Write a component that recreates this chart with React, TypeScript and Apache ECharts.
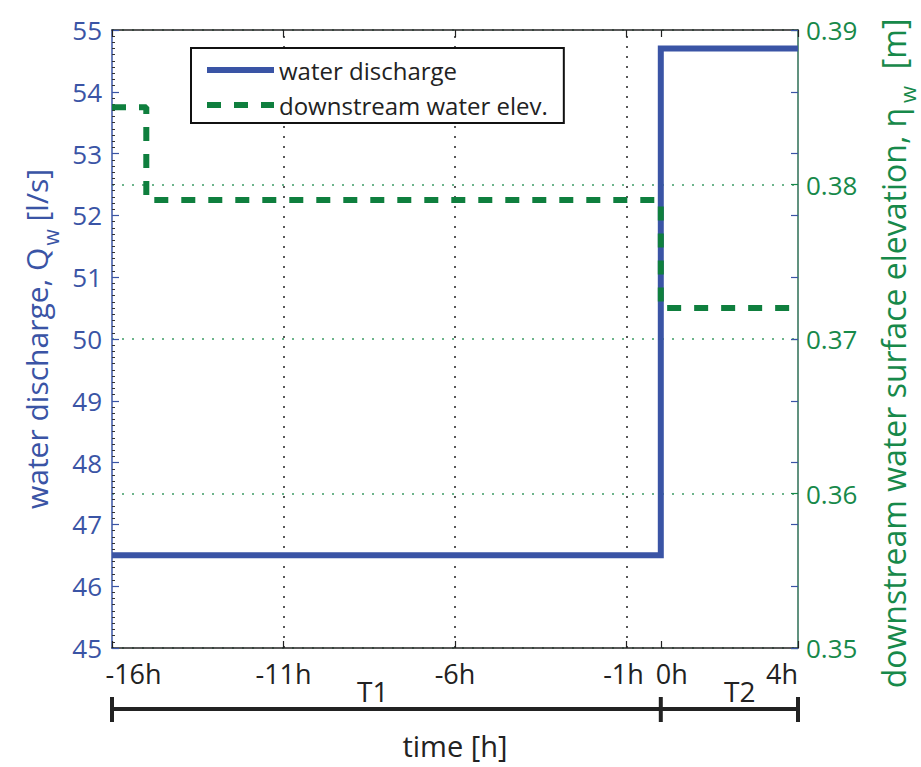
import React, { useEffect, useRef } from "react";
import * as echarts from "echarts";

// ---- data ----
const timeTicks = [-16, -11, -6, -1, 0, 4];
const timeLabels = ["-16h", "-11h", "-6h", "-1h", "0h", "4h"];
const gridTimes = [-11, -6, -1];
const dischargeTime = [-16, 0, 0, 4];
const dischargeValues = [46.5, 46.5, 54.7, 54.7];
const elevTime = [-16, -15, -15, 0, 0, 4];
const elevValues = [0.385, 0.385, 0.379, 0.379, 0.372, 0.372];
const periodNames = ["T1", "T2"];
const periodBounds = [-16, 0, 4];
const periodLabelAt = [-8.4, 2.3];
const leftTicks = [45, 46, 47, 48, 49, 50, 51, 52, 53, 54, 55];
const rightTicks = [0.35, 0.36, 0.37, 0.38, 0.39];

const BLUE = "#3a54a5";
const GREEN = "#0f7f3e";
const GREEN_TXT = "#17894a";
const DARK = "#222222";
const FONT = "Open Sans";

const shiftKey: Record<string, string> = { "-16": "a", "-1": "b", "0": "c", "4": "d" };

export default function App() {
  const ref = useRef<HTMLDivElement>(null);
  useEffect(() => {
    if (!ref.current) return;
    const chart = echarts.init(ref.current, null, { renderer: "svg" });
    const xLabelBase = { fontSize: 27, color: DARK, fontFamily: FONT };
    const option: any = {
      animation: false,
      textStyle: { fontFamily: FONT },
      grid: { left: 112, right: 123, top: 30, bottom: 119, containLabel: false, outerBoundsMode: "none" },
      legend: {
        orient: "vertical",
        left: 191,
        top: 48,
        padding: [8, 16, 4, 13],
        itemWidth: 67,
        itemHeight: 14,
        itemGap: 7,
        borderColor: "#111",
        borderWidth: 2,
        backgroundColor: "#fff",
        textStyle: { fontSize: 24, color: DARK, fontFamily: FONT, lineHeight: 28 },
        lineStyle: { width: 6 },
        itemStyle: { opacity: 0 },
        data: ["water discharge", "downstream water elev."],
      },
      xAxis: [
        {
          type: "value",
          min: timeTicks[0],
          max: timeTicks[timeTicks.length - 1],
          position: "bottom",
          name: "time [h]",
          nameLocation: "middle",
          nameGap: 83,
          nameTextStyle: { fontSize: 29, color: DARK, fontFamily: FONT },
          axisLine: { show: true, onZero: false, lineStyle: { color: DARK, width: 1.5 } },
          axisTick: { show: true, inside: true, length: 7, customValues: timeTicks, lineStyle: { color: DARK, width: 1.2 } },
          axisLabel: {
            show: true,
            customValues: timeTicks,
            margin: 12,
            ...xLabelBase,
            formatter: (v: number) => {
              const i = timeTicks.indexOf(v);
              const txt = i >= 0 ? timeLabels[i] : "";
              const k = shiftKey[String(v)];
              return k ? `{${k}|${txt}}` : txt;
            },
            rich: {
              a: { ...xLabelBase, padding: [0, 0, 0, 43] },
              b: { ...xLabelBase, padding: [0, 6, 0, 0] },
              c: { ...xLabelBase, padding: [0, 0, 0, 22] },
              d: { ...xLabelBase, padding: [0, 32, 0, 0] },
            },
          },
          splitLine: { show: false },
        },
        {
          type: "value",
          min: timeTicks[0],
          max: timeTicks[timeTicks.length - 1],
          position: "top",
          axisLine: { show: true, onZero: false, lineStyle: { color: DARK, width: 1.5 } },
          axisTick: { show: true, inside: true, length: 7, customValues: timeTicks, lineStyle: { color: DARK, width: 1.2 } },
          axisLabel: { show: false },
          splitLine: { show: false },
        },
      ],
      yAxis: [
        {
          type: "value",
          position: "left",
          min: leftTicks[0],
          max: leftTicks[leftTicks.length - 1],
          interval: 1,
          name: "water discharge, Q{sub|w} [l/s]",
          nameLocation: "middle",
          nameGap: 58,
          nameTextStyle: {
            fontSize: 30,
            color: BLUE,
            fontFamily: FONT,
            lineHeight: 30,
            rich: { sub: { fontSize: 21, color: BLUE, fontFamily: FONT, lineHeight: 21, padding: [28, 0, 0, 2] } },
          },
          axisLine: { show: true, onZero: false, lineStyle: { color: BLUE, width: 1.5 } },
          axisTick: { show: true, inside: true, length: 7, lineStyle: { color: BLUE, width: 1.2 } },
          minorTick: { show: true, splitNumber: 10, length: 3, lineStyle: { color: "#333", width: 1 } },
          axisLabel: { show: true, fontSize: 26, color: BLUE, fontFamily: FONT, margin: 10 },
          splitLine: { show: false },
        },
        {
          type: "value",
          position: "right",
          min: rightTicks[0],
          max: rightTicks[rightTicks.length - 1],
          interval: 0.01,
          name: "downstream water surface elevation, η{sub|w}  [m]",
          nameLocation: "middle",
          nameGap: 63,
          nameTextStyle: {
            fontSize: 32,
            color: GREEN_TXT,
            fontFamily: FONT,
            lineHeight: 32,
            padding: [0, 29, 0, 0],
            rich: { sub: { fontSize: 22, color: GREEN_TXT, fontFamily: FONT, lineHeight: 22, padding: [28, 0, 0, 5] } },
          },
          axisLine: { show: true, onZero: false, lineStyle: { color: "#2d6e55", width: 1.5 } },
          axisTick: { show: true, inside: true, length: 7, lineStyle: { color: GREEN_TXT, width: 1.2 } },
          axisLabel: {
            show: true,
            fontSize: 26,
            color: GREEN_TXT,
            fontFamily: FONT,
            margin: 8,
            formatter: (v: number) => v.toFixed(2),
          },
          splitLine: { show: true, lineStyle: { color: "#3f9c67", width: 1.5, type: [2, 8] } },
        },
        {
          type: "value",
          position: "right",
          min: leftTicks[0],
          max: leftTicks[leftTicks.length - 1],
          interval: 1,
          axisLine: { show: false, onZero: false },
          axisTick: { show: true, inside: true, length: 7, lineStyle: { color: BLUE, width: 1.2 } },
          axisLabel: { show: false },
          splitLine: { show: false },
        },
      ],
      series: [
        {
          type: "line",
          xAxisIndex: 0,
          yAxisIndex: 0,
          data: [],
          z: 1,
          silent: true,
          markLine: {
            z: 1,
            silent: true,
            symbol: ["none", "none"],
            label: { show: false },
            lineStyle: { color: "#222", width: 1.5, type: [2, 8] },
            emphasis: { disabled: true },
            data: gridTimes.map((t) => ({ xAxis: t })),
          },
        },
        {
          name: "water discharge",
          type: "line",
          xAxisIndex: 0,
          yAxisIndex: 0,
          data: dischargeTime.map((t, i) => [t, dischargeValues[i]]),
          symbol: "none",
          z: 3,
          lineStyle: { color: BLUE, width: 6, join: "miter" },
          itemStyle: { color: BLUE },
        },
        {
          name: "downstream water elev.",
          type: "line",
          xAxisIndex: 0,
          yAxisIndex: 1,
          data: elevTime.map((t, i) => [t, elevValues[i]]),
          symbol: "none",
          z: 4,
          lineStyle: { color: GREEN, width: 6, type: [14, 13], cap: "butt" },
          itemStyle: { color: GREEN },
        },
      ],
    };
    chart.setOption(option);

    const px = (v: number) => chart.convertToPixel({ xAxisIndex: 0 }, v) as number;
    const barY = 709;
    const graphics: any[] = [
      {
        type: "line",
        shape: { x1: px(periodBounds[0]), y1: barY, x2: px(periodBounds[periodBounds.length - 1]), y2: barY },
        style: { stroke: DARK, lineWidth: 4 },
      },
      ...periodBounds.map((b) => ({
        type: "line",
        shape: { x1: px(b), y1: barY - 12, x2: px(b), y2: barY + 13 },
        style: { stroke: DARK, lineWidth: 4 },
      })),
      ...periodNames.map((n, i) => ({
        type: "text",
        x: px(periodLabelAt[i]),
        y: 691,
        style: { text: n, fontSize: 28, fontFamily: FONT, fill: DARK, align: "center", verticalAlign: "middle" },
      })),
    ];
    chart.setOption({ graphic: graphics });

    return () => chart.dispose();
  }, []);
  return (
    <div
      ref={ref}
      style={{ position: "fixed", left: 0, top: 0, width: 921, height: 767, background: "#fff" }}
    />
  );
}
